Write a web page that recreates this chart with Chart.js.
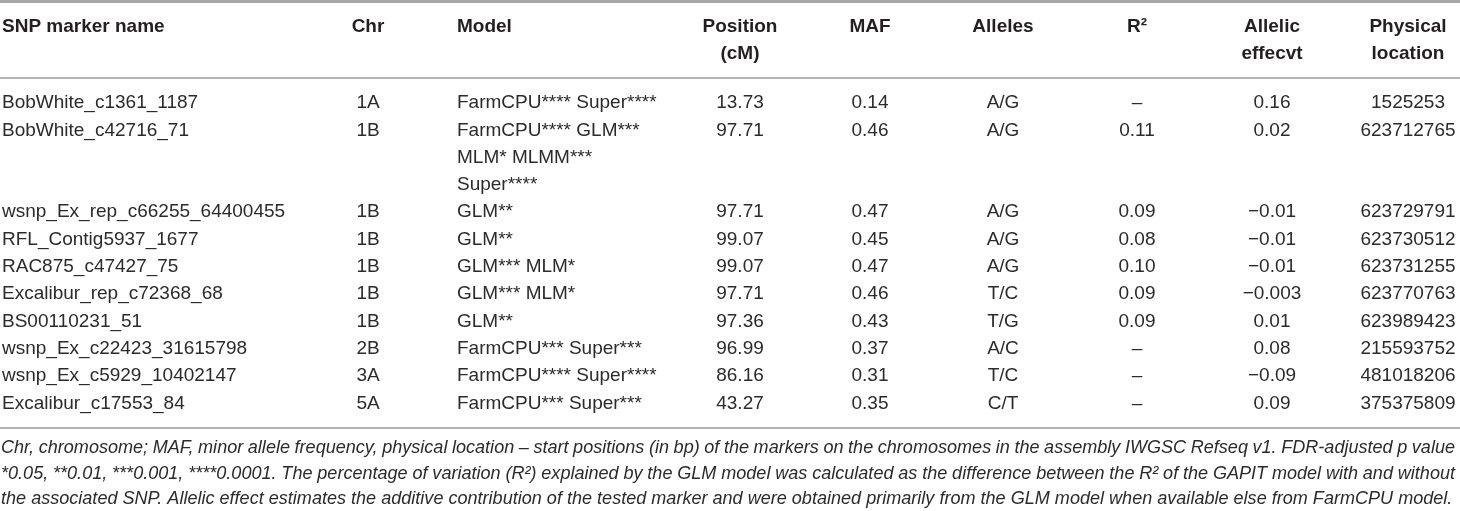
<!DOCTYPE html>
<html>

<head>
    <title>SNP marker table</title>
    <style>
        body { margin: 0; background: #fff; }
    </style>
</head>

<body>
    <canvas id="myChart" width="1460" height="511"></canvas>
    <script src="https://cdn.jsdelivr.net/npm/chart.js"></script>

    <script type="text/javascript">
        // table values
        const headers = [["SNP marker name"], ["Chr"], ["Model"], ["Position", "(cM)"], ["MAF"], ["Alleles"], ["R²"], ["Allelic", "effecvt"], ["Physical", "location"]];
        const snpNames = ["BobWhite_c1361_1187", "BobWhite_c42716_71", "wsnp_Ex_rep_c66255_64400455", "RFL_Contig5937_1677", "RAC875_c47427_75",
            "Excalibur_rep_c72368_68", "BS00110231_51", "wsnp_Ex_c22423_31615798", "wsnp_Ex_c5929_10402147", "Excalibur_c17553_84"];
        const chromosomes = ["1A", "1B", "1B", "1B", "1B", "1B", "1B", "2B", "3A", "5A"];
        const models = ["FarmCPU**** Super****", "FarmCPU**** GLM*** MLM* MLMM*** Super****", "GLM**", "GLM**", "GLM*** MLM*",
            "GLM*** MLM*", "GLM**", "FarmCPU*** Super***", "FarmCPU**** Super****", "FarmCPU*** Super***"];
        const positionsCM = [13.73, 97.71, 97.71, 99.07, 99.07, 97.71, 97.36, 96.99, 86.16, 43.27];
        const mafValues = [0.14, 0.46, 0.47, 0.45, 0.47, 0.46, 0.43, 0.37, 0.31, 0.35];
        const alleles = ["A/G", "A/G", "A/G", "A/G", "A/G", "T/C", "T/G", "A/C", "T/C", "C/T"];
        const r2Values = [null, 0.11, 0.09, 0.08, 0.10, 0.09, 0.09, null, null, null];
        const allelicEffects = [0.16, 0.02, -0.01, -0.01, -0.01, -0.003, 0.01, 0.08, -0.09, 0.09];
        const physicalLocations = [1525253, 623712765, 623729791, 623730512, 623731255, 623770763, 623989423, 215593752, 481018206, 375375809];
        const footnoteLines = [
            "Chr, chromosome; MAF, minor allele frequency, physical location – start positions (in bp) of the markers on the chromosomes in the assembly IWGSC Refseq v1. FDR-adjusted p value",
            "*0.05, **0.01, ***0.001, ****0.0001. The percentage of variation (R²) explained by the GLM model was calculated as the difference between the R² of the GAPIT model with and without",
            "the associated SNP. Allelic effect estimates the additive contribution of the tested marker and were obtained primarily from the GLM model when available else from FarmCPU model."
        ];

        const fmt2 = v => v === null ? "–" : v.toFixed(2);
        const fmtSigned = v => String(v).replace("-", "\u2212");

        // column anchors (x in scale units) and alignment
        const colX = [2, 368, 457, 740, 870, 1003, 1137, 1272, 1408];
        const colAlign = ["left", "center", "left", "center", "center", "center", "center", "center", "center"];
        const modelWrap = 205;

        const bodyFont = '19px "Liberation Sans", Arial, sans-serif';
        const headFont = 'bold 19px "Liberation Sans", Arial, sans-serif';

        function wrapWords(ctx, text, maxW) {
            const words = text.split(" ");
            let lines = [], cur = "";
            words.forEach(w => {
                const t = cur ? cur + " " + w : w;
                if (cur && ctx.measureText(t).width > maxW) {
                    lines.push(cur);
                    cur = w;
                } else cur = t;
            });
            lines.push(cur);
            return lines;
        }

        function drawJustified(ctx, text, x, y, width) {
            const words = text.split(" ");
            let total = 0;
            words.forEach(w => total += ctx.measureText(w).width);
            const gap = (width - total) / (words.length - 1);
            let cx = x;
            words.forEach(w => {
                ctx.fillText(w, cx, y);
                cx += ctx.measureText(w).width + gap;
            });
        }

        const tablePlugin = {
            id: 'tableCells',
            afterDraw(chart) {
                const ctx = chart.ctx;
                const xs = chart.scales.x, ys = chart.scales.y;
                const X = v => xs.getPixelForValue(v);
                const Y = v => ys.getPixelForValue(v);
                ctx.save();

                // rules
                ctx.strokeStyle = '#a6a6a6';
                ctx.lineWidth = 3;
                ctx.beginPath(); ctx.moveTo(X(0), Y(1.5)); ctx.lineTo(X(1460), Y(1.5)); ctx.stroke();
                ctx.strokeStyle = '#9a9a9a';
                ctx.lineWidth = 1.5;
                [78, 428].forEach(v => {
                    ctx.beginPath(); ctx.moveTo(X(0), Y(v)); ctx.lineTo(X(1460), Y(v)); ctx.stroke();
                });

                ctx.textBaseline = 'middle';

                // header
                ctx.font = headFont;
                ctx.fillStyle = '#231f20';
                headers.forEach((h, c) => {
                    ctx.textAlign = colAlign[c];
                    h.forEach((line, k) => ctx.fillText(line, X(colX[c]), Y(27 + k * 27)));
                });

                // body
                ctx.font = bodyFont;
                ctx.fillStyle = '#2b2b2b';
                const pitch = 27.3;
                let lineIdx = 0;
                snpNames.forEach((name, i) => {
                    const y = Y(103 + lineIdx * pitch);
                    const cells = [name, chromosomes[i], null, positionsCM[i].toFixed(2), mafValues[i].toFixed(2), alleles[i],
                        fmt2(r2Values[i]), fmtSigned(allelicEffects[i]), String(physicalLocations[i])];
                    cells.forEach((txt, c) => {
                        if (txt === null) return;
                        ctx.textAlign = colAlign[c];
                        ctx.fillText(txt, X(colX[c]), y);
                    });
                    const mLines = wrapWords(ctx, models[i], modelWrap);
                    ctx.textAlign = 'left';
                    mLines.forEach((l, k) => ctx.fillText(l, X(colX[2]), Y(103 + (lineIdx + k) * pitch)));
                    lineIdx += mLines.length;
                });

                // footnote
                ctx.fillStyle = '#2b2b2b';
                ctx.textAlign = 'left';
                ctx.font = 'italic 18px "Liberation Sans", Arial, sans-serif';
                const natural = ctx.measureText(footnoteLines[2]).width;
                const size = 18 * 1452 / natural;
                ctx.font = 'italic ' + size.toFixed(2) + 'px "Liberation Sans", Arial, sans-serif';
                const fy = [448, 473.5, 499];
                footnoteLines.forEach((l, k) => {
                    if (k < 2) drawJustified(ctx, l, X(1), Y(fy[k]), 1454);
                    else ctx.fillText(l, X(1), Y(fy[k]));
                });

                ctx.restore();
            }
        };

        const chart = new Chart(document.getElementById('myChart').getContext('2d'), {
            type: 'scatter',
            data: { datasets: [] },
            options: {
                responsive: false,
                animation: false,
                layout: { padding: 0 },
                plugins: { legend: { display: false }, tooltip: { enabled: false } },
                scales: {
                    x: { type: 'linear', min: 0, max: 1460, display: false },
                    y: { type: 'linear', min: 0, max: 511, reverse: true, display: false }
                }
            },
            plugins: [tablePlugin]
        });
    </script>
</body>

</html>
